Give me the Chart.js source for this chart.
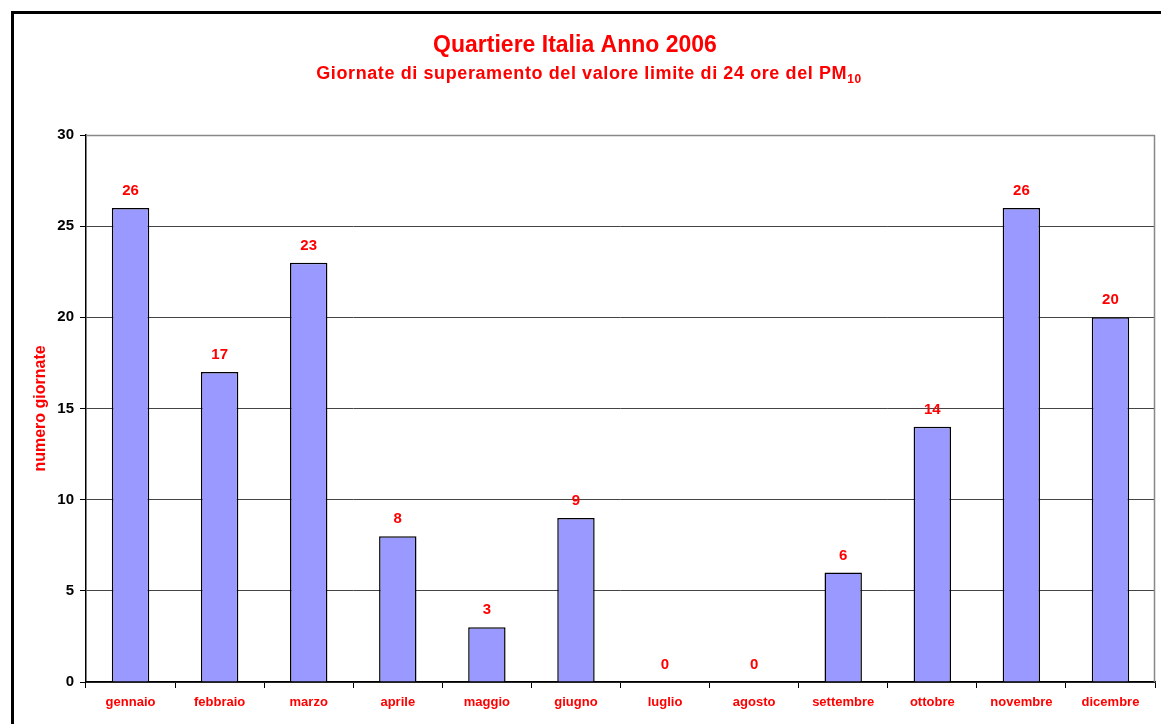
<!DOCTYPE html>
<html>
<head>
<meta charset="utf-8">
<script src="https://cdn.jsdelivr.net/npm/chart.js@4/dist/chart.umd.min.js"></script>
<style>
  html, body { margin: 0; padding: 0; background: #fff; overflow: hidden; }
  #wrap { width: 1161px; height: 724px; position: relative; }
</style>
</head>
<body>
<div id="wrap"><canvas id="chart" width="1161" height="724"></canvas></div>
<script>
// data
const months = ['gennaio', 'febbraio', 'marzo', 'aprile', 'maggio', 'giugno',
  'luglio', 'agosto', 'settembre', 'ottobre', 'novembre', 'dicembre'];
const exceedDays = [26, 17, 23, 8, 3, 9, 0, 0, 6, 14, 26, 20];
const yTicks = [0, 5, 10, 15, 20, 25, 30];

const title = 'Quartiere Italia Anno 2006';
const subtitle = 'Giornate di superamento del valore limite di 24 ore del PM';
const subtitleSub = '10';
const yTitle = 'numero giornate';

const RED = '#ff0000';
const FONT = '"Liberation Sans", Arial, sans-serif';

// frame, titles, plot border, value labels
const decorations = {
  id: 'decorations',
  beforeDraw(chart) {
    const ctx = chart.ctx;
    ctx.save();
    ctx.strokeStyle = '#000';
    ctx.lineWidth = 3;
    ctx.beginPath();
    ctx.moveTo(12.5, 730);
    ctx.lineTo(12.5, 12.5);
    ctx.lineTo(1170, 12.5);
    ctx.stroke();
    ctx.restore();
  },
  afterDatasetsDraw(chart) {
    const ctx = chart.ctx;
    const area = chart.chartArea;
    ctx.save();
    // plot border (top, right)
    ctx.strokeStyle = '#888';
    ctx.lineWidth = 1.5;
    ctx.beginPath();
    ctx.moveTo(area.left, area.top + 0.5);
    ctx.lineTo(area.right - 0.5, area.top + 0.5);
    ctx.lineTo(area.right - 0.5, area.bottom);
    ctx.stroke();

    // titles
    ctx.fillStyle = RED;
    ctx.textBaseline = 'alphabetic';
    ctx.textAlign = 'center';
    ctx.font = 'bold 23px ' + FONT;
    ctx.fillText(title, 575, 52);

    ctx.letterSpacing = '0.6px';
    ctx.font = 'bold 18px ' + FONT;
    const w1 = ctx.measureText(subtitle).width;
    ctx.font = 'bold 12px ' + FONT;
    const w2 = ctx.measureText(subtitleSub).width;
    const x0 = 589 - (w1 + w2) / 2;
    ctx.textAlign = 'left';
    ctx.font = 'bold 18px ' + FONT;
    ctx.fillText(subtitle, x0, 79);
    ctx.font = 'bold 12px ' + FONT;
    ctx.fillText(subtitleSub, x0 + w1, 83);
    ctx.letterSpacing = '0px';

    // value labels
    ctx.textAlign = 'center';
    ctx.textBaseline = 'middle';
    ctx.font = 'bold 15px ' + FONT;
    const meta = chart.getDatasetMeta(0);
    meta.data.forEach((bar, i) => {
      ctx.fillText(String(exceedDays[i]), bar.x, bar.y - 17);
    });
    ctx.restore();
  }
};

new Chart(document.getElementById('chart'), {
  type: 'bar',
  data: {
    labels: months,
    datasets: [{
      data: exceedDays,
      backgroundColor: '#9999ff',
      borderColor: '#000',
      borderWidth: 1.5,
      categoryPercentage: 0.42,
      barPercentage: 1
    }]
  },
  options: {
    responsive: false,
    animation: false,
    layout: { padding: { left: 31, top: 135, right: 6, bottom: 0 } },
    plugins: {
      legend: { display: false },
      tooltip: { enabled: false }
    },
    scales: {
      x: {
        afterFit(scale) { scale.height = 42; },
        grid: {
          offset: true,
          drawOnChartArea: false,
          color: '#000',
          tickLength: 6,
          tickColor: '#000'
        },
        border: { color: '#000', width: 1.5 },
        ticks: {
          color: RED,
          font: { family: FONT, size: 13, weight: 'bold' },
          padding: 7
        }
      },
      y: {
        min: 0,
        max: 30,
        afterFit(scale) { scale.width = 55; },
        afterBuildTicks(scale) { scale.ticks = yTicks.map(v => ({ value: v })); },
        grid: {
          color: '#444',
          lineWidth: 1,
          tickLength: 6,
          tickColor: '#000'
        },
        border: { color: '#000', width: 1.5 },
        ticks: {
          color: '#000',
          font: { family: FONT, size: 15, weight: 'bold' },
          padding: 6
        },
        title: {
          display: true,
          text: yTitle,
          color: RED,
          font: { family: FONT, size: 16, weight: 'bold' },
          padding: { top: 0, bottom: 0 }
        }
      }
    }
  },
  plugins: [decorations]
});
</script>
</body>
</html>
